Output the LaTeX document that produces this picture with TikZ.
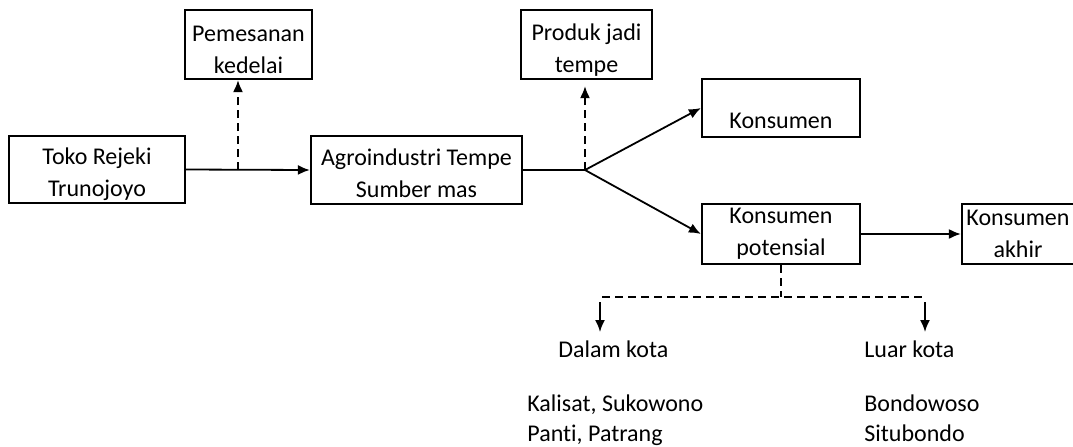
\documentclass[tikz,border=0pt]{standalone}
\usepackage{fontspec}
\setmainfont{Carlito}[Ligatures = NoCommon]
\usepackage{tikz}
\usetikzlibrary{arrows.meta, positioning}
\tikzset{>={Latex[length=6pt, width=5pt]}}
\newcommand{\pushdown}[1]{\rule{0pt}{#1}}
\tikzset{box/.style = {draw, line width = 1.1pt, align = center, inner sep = 0pt, font = \fontsize{12}{16}\selectfont},
  txt/.style = {inner sep = 0pt, font = \fontsize{12}{15}\selectfont},
  conn/.style = {line width = 0.9pt},
  dashline/.style = {line width = 0.9pt, dash pattern = on 4pt off 2.5pt}}

\begin{document}
\begin{tikzpicture}[x = 0.5pt, y = -0.5pt]
\useasboundingbox (0, 0) rectangle (1073, 446);
\node[box, minimum width = 88pt, minimum height = 33.5pt] (toko) at (97, 169.5) {\pushdown{13.5pt}Toko Rejeki\\Trunojoyo};
\node[box, minimum width = 63.5pt, minimum height = 34.5pt] (pesan) at (248.5, 44.5) {\pushdown{13.5pt}Pemesanan\\kedelai};
\node[box, minimum width = 105.5pt, minimum height = 34pt] (agro) at (416.5, 170) {\pushdown{12pt}Agroindustri Tempe\\Sumber mas};
\node[box, minimum width = 65.5pt, minimum height = 34.5pt] (produk) at (586.5, 44.5) {\pushdown{13.5pt}Produk jadi\\tempe};
\node[box, minimum width = 79pt, minimum height = 29pt] (kons) at (781, 108) {\pushdown{21pt}Konsumen};
\node[box, minimum width = 79pt, minimum height = 30pt] (pot) at (781, 234) {Konsumen\\potensial};
\node[box, minimum width = 56pt, minimum height = 30pt] (akhir) at (1018, 234) {Konsumen\\akhir};

\node[txt, anchor = base west] (dalam) at (558, 357) {Dalam kota};
\node[txt, anchor = base west] (luar) at (864, 357) {Luar kota};
\node[txt, anchor = north west, align = left] (dalamlist) at (527, 394) {Kalisat, Sukowono\\Panti, Patrang};
\node[txt, anchor = north west, align = left] (luarlist) at (864, 394) {Bondowoso\\Situbondo};

\coordinate (pesanfoot) at (238, 170);
\coordinate (branch) at (585, 170);
\coordinate (potfoot) at (pot.south |- 0, 297);
\coordinate (dalamtop) at (600, 302);
\coordinate (dalamend) at (600, 332);
\coordinate (luartop) at (925, 302);
\coordinate (luarend) at (925, 332);

\draw[->, conn] (toko.east) -- (agro.west);
\draw[->, dashline] (pesanfoot) -- (pesanfoot |- pesan.south);
\draw[conn] (agro.east) -- (branch);
\draw[->, dashline, shorten > = 3pt] (branch) -- (branch |- produk.south);
\draw[->, conn] (branch) -- (kons.west);
\draw[->, conn] (branch) -- (pot.west);
\draw[->, conn] (pot.east) -- (akhir.west);
\draw[dashline] (pot.south) -- (potfoot);
\draw[dashline] (602, 297) -- (922, 297);
\draw[->, conn] (dalamtop) -- (dalamend);
\draw[->, conn] (luartop) -- (luarend);
\end{tikzpicture}
\end{document}
